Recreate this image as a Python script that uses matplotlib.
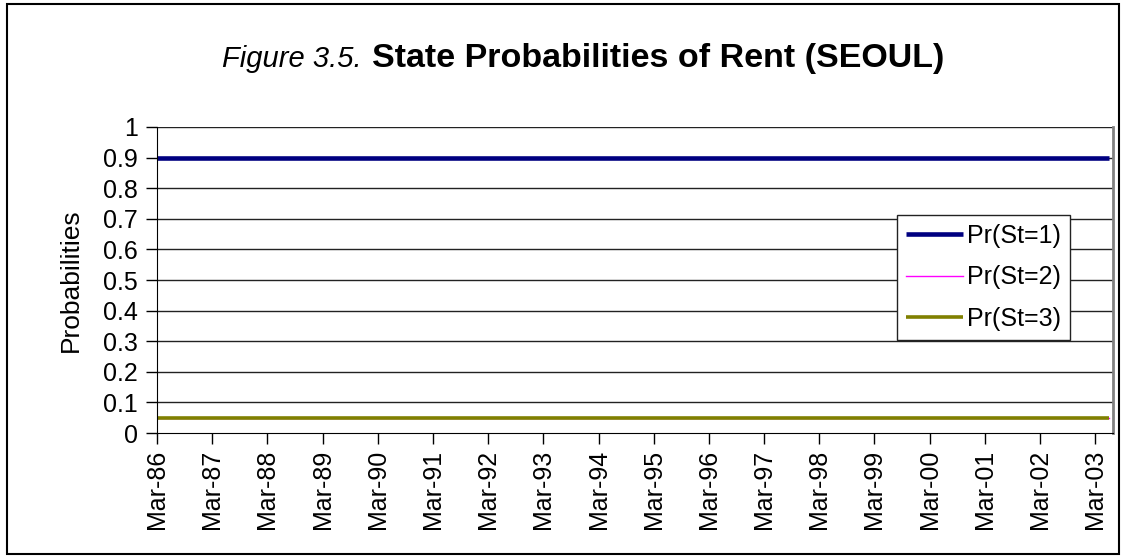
import matplotlib
matplotlib.use("Agg")
import matplotlib.pyplot as plt
import numpy as np
from matplotlib.patches import Rectangle

plt.rcParams['font.family'] = ['Liberation Sans', 'DejaVu Sans']

# quarterly state probabilities, Mar-86 .. Jun-03 (70 quarters)
pr_st1 = [0.9, 0.9, 0.9, 0.9, 0.9, 0.9, 0.9, 0.9, 0.9, 0.9,
          0.9, 0.9, 0.9, 0.9, 0.9, 0.9, 0.9, 0.9, 0.9, 0.9,
          0.9, 0.9, 0.9, 0.9, 0.9, 0.9, 0.9, 0.9, 0.9, 0.9,
          0.9, 0.9, 0.9, 0.9, 0.9, 0.9, 0.9, 0.9, 0.9, 0.9,
          0.9, 0.9, 0.9, 0.9, 0.9, 0.9, 0.9, 0.9, 0.9, 0.9,
          0.9, 0.9, 0.9, 0.9, 0.9, 0.9, 0.9, 0.9, 0.9, 0.9,
          0.9, 0.9, 0.9, 0.9, 0.9, 0.9, 0.9, 0.9, 0.9, 0.9]
pr_st2 = [0.05, 0.05, 0.05, 0.05, 0.05, 0.05, 0.05, 0.05, 0.05, 0.05,
          0.05, 0.05, 0.05, 0.05, 0.05, 0.05, 0.05, 0.05, 0.05, 0.05,
          0.05, 0.05, 0.05, 0.05, 0.05, 0.05, 0.05, 0.05, 0.05, 0.05,
          0.05, 0.05, 0.05, 0.05, 0.05, 0.05, 0.05, 0.05, 0.05, 0.05,
          0.05, 0.05, 0.05, 0.05, 0.05, 0.05, 0.05, 0.05, 0.05, 0.05,
          0.05, 0.05, 0.05, 0.05, 0.05, 0.05, 0.05, 0.05, 0.05, 0.05,
          0.05, 0.05, 0.05, 0.05, 0.05, 0.05, 0.05, 0.05, 0.05, 0.05]
pr_st3 = [0.05, 0.05, 0.05, 0.05, 0.05, 0.05, 0.05, 0.05, 0.05, 0.05,
          0.05, 0.05, 0.05, 0.05, 0.05, 0.05, 0.05, 0.05, 0.05, 0.05,
          0.05, 0.05, 0.05, 0.05, 0.05, 0.05, 0.05, 0.05, 0.05, 0.05,
          0.05, 0.05, 0.05, 0.05, 0.05, 0.05, 0.05, 0.05, 0.05, 0.05,
          0.05, 0.05, 0.05, 0.05, 0.05, 0.05, 0.05, 0.05, 0.05, 0.05,
          0.05, 0.05, 0.05, 0.05, 0.05, 0.05, 0.05, 0.05, 0.05, 0.05,
          0.05, 0.05, 0.05, 0.05, 0.05, 0.05, 0.05, 0.05, 0.05, 0.05]

tick_labels = ["Mar-86", "Mar-87", "Mar-88", "Mar-89", "Mar-90", "Mar-91",
               "Mar-92", "Mar-93", "Mar-94", "Mar-95", "Mar-96", "Mar-97",
               "Mar-98", "Mar-99", "Mar-00", "Mar-01", "Mar-02", "Mar-03"]
y_ticks = [0, 0.1, 0.2, 0.3, 0.4, 0.5, 0.6, 0.7, 0.8, 0.9, 1]
y_tick_labels = ["0", "0.1", "0.2", "0.3", "0.4", "0.5", "0.6", "0.7", "0.8", "0.9", "1"]

fig = plt.figure(figsize=(11.25, 5.56), dpi=100)
fig.patch.set_facecolor("white")
# outer chart border
fig.patches.append(Rectangle((7 / 1125, 2 / 556), 1112 / 1125, 550 / 556,
                             transform=fig.transFigure, fill=False,
                             edgecolor="black", linewidth=1.5))

ax = fig.add_axes([0.1396, 0.2212, 0.8498, 0.5504])
x = np.arange(len(pr_st1))

ax.plot(x, pr_st1, color="#000080", linewidth=3.3, solid_capstyle="butt", label="Pr(St=1)")
ax.plot(x, pr_st2, color="#FF00FF", linewidth=1.0, label="Pr(St=2)")
ax.plot(x, pr_st3, color="#808000", linewidth=2.6, solid_capstyle="butt", label="Pr(St=3)")

ax.set_xlim(0, len(pr_st1) - 0.7)
ax.set_ylim(0, 1)
ax.set_yticks(y_ticks)
ax.set_yticklabels(y_tick_labels, fontsize=18)
ax.set_xticks(np.arange(0, len(pr_st1), 4)[:len(tick_labels)])
ax.set_xticklabels(tick_labels, rotation=90, fontsize=18)
ax.tick_params(axis="both", direction="out", length=8, width=1, color="black")
ax.tick_params(axis="y", pad=6)
ax.tick_params(axis="x", pad=4)

for yv in y_ticks[1:]:
    ax.axhline(yv, color="#222222", linewidth=1.0, zorder=0)

ax.spines["left"].set_color("black")
ax.spines["bottom"].set_color("black")
ax.spines["right"].set_color("#808080")
ax.spines["right"].set_linewidth(2)
ax.spines["top"].set_visible(False)

ax.set_ylabel("Probabilities", fontsize=19, labelpad=14)

leg = ax.legend(loc="upper left", bbox_to_anchor=(0.774, 0.712), fontsize=18,
                frameon=True, fancybox=False, framealpha=1, edgecolor="#222222",
                handlelength=2.3, handletextpad=0.15, labelspacing=0.7,
                borderpad=0.35, borderaxespad=0)
leg.get_frame().set_linewidth(1.0)

fig.text(0.321, 0.8795, "Figure 3.5.", fontsize=21, style="italic", ha="right", va="baseline")
fig.text(0.331, 0.8795, "State Probabilities of Rent (SEOUL)", fontsize=24.5,
         fontweight="bold", ha="left", va="baseline")

fig.savefig("out.png", dpi=100)
